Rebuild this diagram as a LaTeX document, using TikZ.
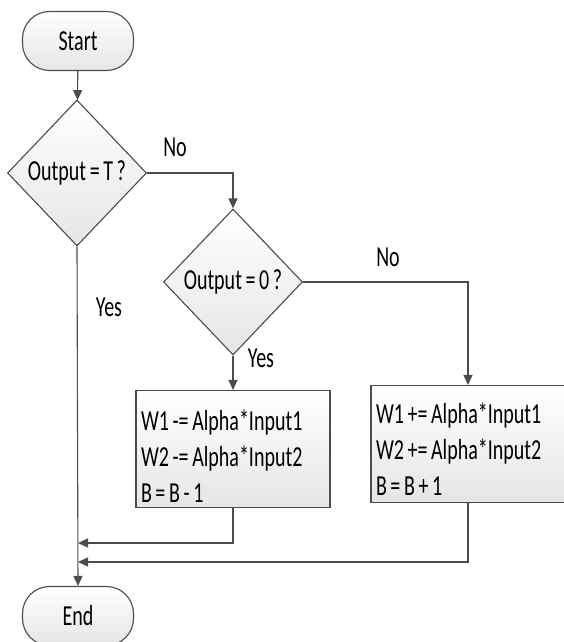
\documentclass[tikz,border=0pt]{standalone}
\usepackage{fontspec}
\setmainfont[FakeStretch=0.69,WordSpace=0.8]{Carlito}
\usepackage{tikz}
\usetikzlibrary{shapes.geometric,arrows.meta}

\begin{document}
\begin{tikzpicture}[
      x=1pt, y=-1pt,
      every node/.style={font=\fontsize{29}{36}\selectfont},
      shapefill/.style={draw=black!70, line width=1.1pt, top color=white, bottom color=black!10},
      terminal/.style={shapefill, rectangle, rounded corners=27pt, minimum width=111pt, minimum height=59pt},
      decision/.style={shapefill, diamond, aspect=1, inner sep=0pt, minimum width=139pt, minimum height=146pt},
      process/.style={shapefill, rectangle, text width=184pt, align=flush left, inner xsep=5pt, minimum height=117pt},
      arr/.style={draw=black!70, line width=1.1pt, -{Triangle[length=10pt,width=9pt]}},
      lbl/.style={inner sep=0pt}
    ]
      \useasboundingbox (0,0) rectangle (563,642);
      % Terminals
      \node[terminal] (start) at (78,41) {Start};
      \node[terminal] (end) at (78,616) {End};
      % Decisions
      \node[decision] (outT) at (77,173) {Output = T ?};
      \node[decision] (out0) at (233,282) {Output = 0 ?};
      % Updates
      \node[process] (dec) at (233,449) {\rule{0pt}{34pt}W1 -= Alpha*Input1\\W2 -= Alpha*Input2\\B = B - 1};
      \node[process] (inc) at (468,444) {\rule{0pt}{30pt}W1 += Alpha*Input1\\W2 += Alpha*Input2\\B = B + 1};
      % Labels
      \node[lbl] (noT) at (175,147) {No};
      \node[lbl] (yesT) at (109,307) {Yes};
      \node[lbl] (no0) at (388,257) {No};
      \node[lbl] (yes0) at (261,358) {Yes};
      % Merge points
      \coordinate (m1) at (78,543);
      \coordinate (m2) at (78,562);
      % Arrows
      \draw[arr] (start) -- (outT);
      \draw[arr] (outT.east) -| (out0.north);
      \draw[arr] (out0.east) -| (inc.north);
      \draw[arr] (out0.south) -- (dec.north);
      \draw[arr] (outT.south) -- (end.north);
      \draw[arr] (dec.south) |- (m1);
      \draw[arr] (inc.south) |- (m2);
    \end{tikzpicture}
\end{document}
